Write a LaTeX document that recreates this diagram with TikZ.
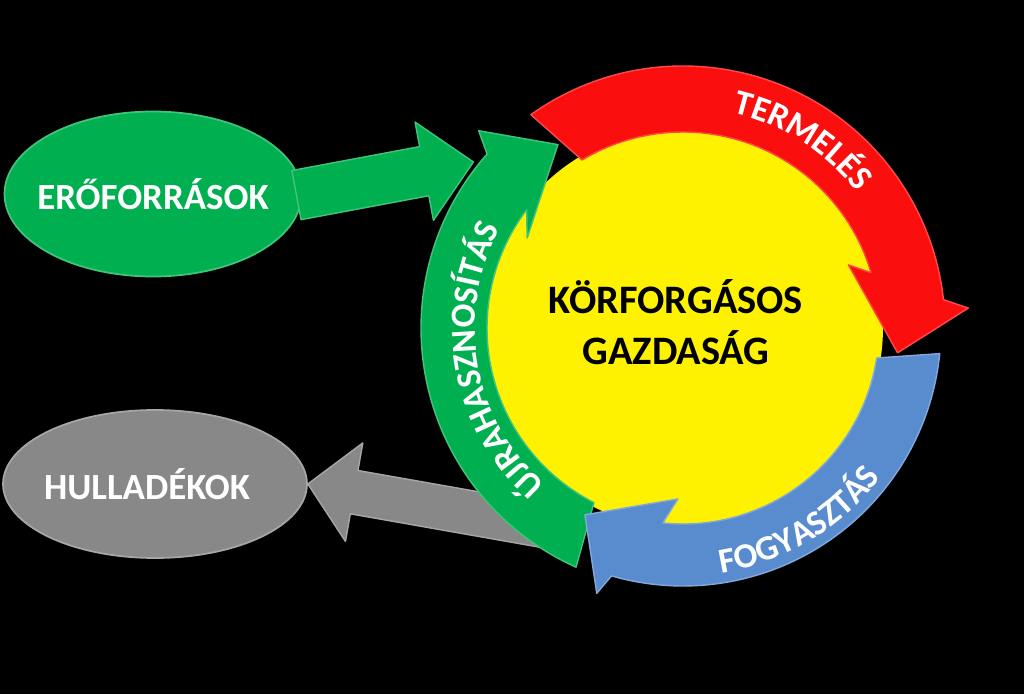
\documentclass[tikz,border=0pt]{standalone}
\usepackage{fontspec}
\setmainfont{Carlito}
\usetikzlibrary{shapes.geometric,decorations.text}

\definecolor{ringgreen}{RGB}{0,176,80}
\definecolor{ringred}{RGB}{250,14,14}
\definecolor{ringblue}{RGB}{88,140,206}
\definecolor{wastegray}{RGB}{136,136,136}

\newcommand{\ringfont}{\fontsize{20}{22}\selectfont\bfseries\color{white}}

\begin{document}
\begin{tikzpicture}[
    x=0.02cm, y=0.02cm,
    blob/.style={ellipse, line width=1pt, inner sep=0pt, text=white, font=\fontsize{21}{24}\selectfont\bfseries},
    core/.style={circle, fill=yellow, minimum size=8cm, inner sep=0pt},
    corelabel/.style={align=center, inner sep=0pt, font=\fontsize{23}{29}\selectfont\bfseries},
    band/.style={fill=#1, draw=#1!75!white, line width=0.8pt, line join=round},
    ringtext/.style={decorate, decoration={text along path, text align=center, text={|\ringfont|#1}}}
]

\fill[black] (0,0) rectangle (1024,694);
\useasboundingbox (0,0) rectangle (1024,694);

\node[core] (core) at (683,366) {};
\node[corelabel] (title) at (676,372) {KÖRFORGÁSOS\\GAZDASÁG};
\node[blob, fill=ringgreen, draw=ringgreen!75!white, minimum width=5.94cm, minimum height=3.3cm] (res) at (153,500) {\makebox[0pt]{ERŐFORRÁSOK}};
\node[blob, fill=wastegray, draw=wastegray!75!white, minimum width=6.08cm, minimum height=2.96cm] (waste) at (155,210) {\makebox[0pt]{HULLADÉKOK\hspace*{0.32cm}}};

% block arrows in and out
\begin{scope}[shift={(waste.east)}, rotate=-10]
\draw[band=wastegray] (0,0) -- (47,50) -- (47,22) -- (270,22) -- (270,-22) -- (47,-22) -- (47,-50) -- cycle;
\end{scope}
\begin{scope}[shift={(res.east)}, rotate=10.6]
\draw[band=ringgreen] (-6,25) -- (124,25) -- (124,50) -- (174,0) -- (124,-50) -- (124,-25) -- (-6,-25) -- cycle;
\end{scope}

% the three ring arrows
\begin{scope}[shift={(core.center)}]
\draw[band=ringgreen] (245.9:262) arc[start angle=245.9, end angle=138.4, radius=262] -- (136:284) -- (124.3:222) -- (150:180) -- (142.9:196) arc[start angle=142.9, end angle=243, radius=196] -- cycle;
\draw[band=ringblue] (-5.7:258) arc[start angle=-5.7, end angle=-106.1, radius=258] -- (-108:279) -- (-117.7:211) -- (-91.7:171) -- (-95.9:196) arc[start angle=-95.9, end angle=-8.8, radius=196] -- cycle;
\draw[band=ringred] (125.5:262) arc[start angle=125.5, end angle=6.2, radius=262] -- (4:286) -- (-6.6:216) -- (20.9:177) -- (16.4:196) arc[start angle=16.4, end angle=121, radius=196] -- cycle;

\path[ringtext=TERMELÉS] (100:221) arc[start angle=100, end angle=15, radius=221];
\path[ringtext=FOGYASZTÁS] (-100:248) arc[start angle=-100, end angle=-18, radius=248];
\path[ringtext=ÚJRAHASZNOSÍTÁS] (250:208) arc[start angle=250, end angle=130, radius=208];
\end{scope}

\end{tikzpicture}
\end{document}
